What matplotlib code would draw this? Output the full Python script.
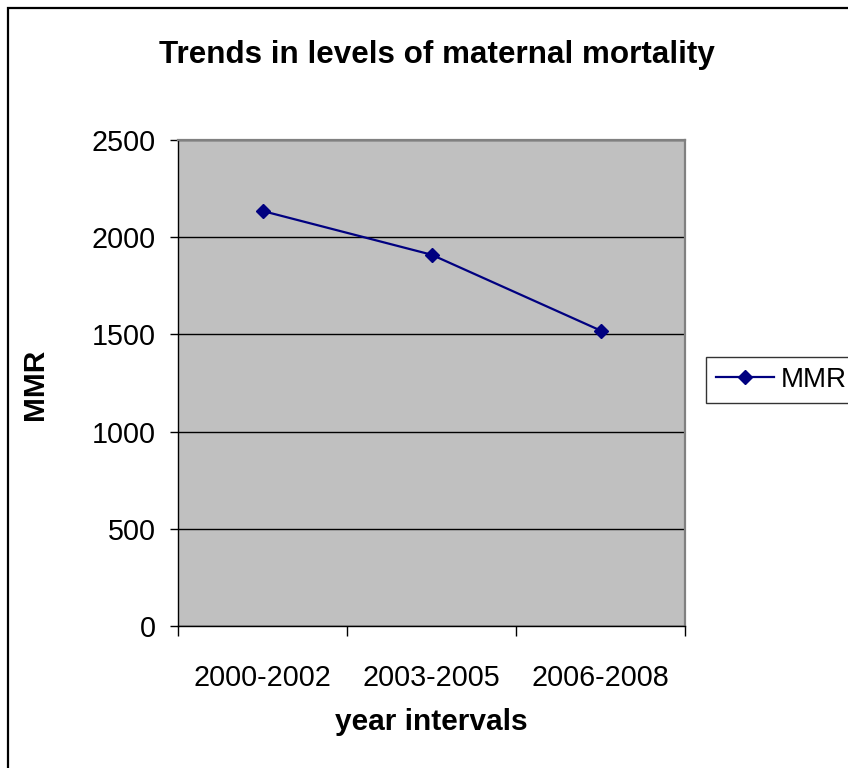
import matplotlib.pyplot as plt
from matplotlib.patches import Rectangle

# data
periods = ['2000-2002', '2003-2005', '2006-2008']
mmr = [2135, 1910, 1520]

plt.rcParams['font.family'] = ['Liberation Sans', 'DejaVu Sans']

W, H = 848, 768
fig = plt.figure(figsize=(W / 100, H / 100), dpi=100)

# outer chart border (cut off on right and bottom)
fig.add_artist(Rectangle((8 / W, -0.5), 2.0, 1.5 - 8 / H, transform=fig.transFigure,
                         fill=False, edgecolor='black', linewidth=1.6))

ax = fig.add_axes([178 / W, 1 - 626 / H, (685 - 178) / W, (626 - 140) / H])
ax.set_facecolor('#c0c0c0')

x = list(range(1, len(periods) + 1))
ax.plot(x, mmr, color='#000080', linewidth=1.6, marker='D', markersize=6.8,
        markerfacecolor='#000080', markeredgecolor='#000080', label='MMR')

ax.set_ylim(0, 2500)
ax.set_yticks(range(0, 2501, 500))
ax.set_xlim(0.5, len(periods) + 0.5)
ax.set_xticks([i + 0.5 for i in range(len(periods) + 1)])
ax.set_xticklabels([])
ax.set_xticks(x, minor=True)
ax.set_xticklabels(periods, minor=True)
ax.tick_params(axis='x', which='minor', length=0, pad=27, labelsize=20.7)
ax.tick_params(axis='x', which='major', length=7, width=1, direction='out')
ax.tick_params(axis='y', length=6, width=1, direction='out', pad=10, labelsize=20.7)

ax.grid(axis='y', color='black', linewidth=1)
ax.set_axisbelow(True)
for s in ['top', 'right']:
    ax.spines[s].set_color('#808080')
    ax.spines[s].set_linewidth(1.6)
for s in ['left', 'bottom']:
    ax.spines[s].set_color('black')
    ax.spines[s].set_linewidth(1)

fig.text(437 / W, 1 - 55 / H, 'Trends in levels of maternal mortality',
         ha='center', va='center', fontsize=22.6, fontweight='bold')
fig.text(431 / W, 1 - 722 / H, 'year intervals', ha='center', va='center',
         fontsize=21.5, fontweight='bold')
fig.text(35 / W, 1 - 384 / H, 'MMR', ha='center', va='center', rotation=90,
         fontsize=21.5, fontweight='bold')

leg = fig.legend(loc='center left', bbox_to_anchor=(706 / W, 1 - 380 / H),
                 bbox_transform=fig.transFigure, fontsize=20, frameon=True,
                 fancybox=False, handlelength=2.1, handletextpad=0.25,
                 borderpad=0.35, borderaxespad=0)
leg.get_frame().set_edgecolor('black')
leg.get_frame().set_linewidth(1)

fig.savefig('out.png', dpi=100)
